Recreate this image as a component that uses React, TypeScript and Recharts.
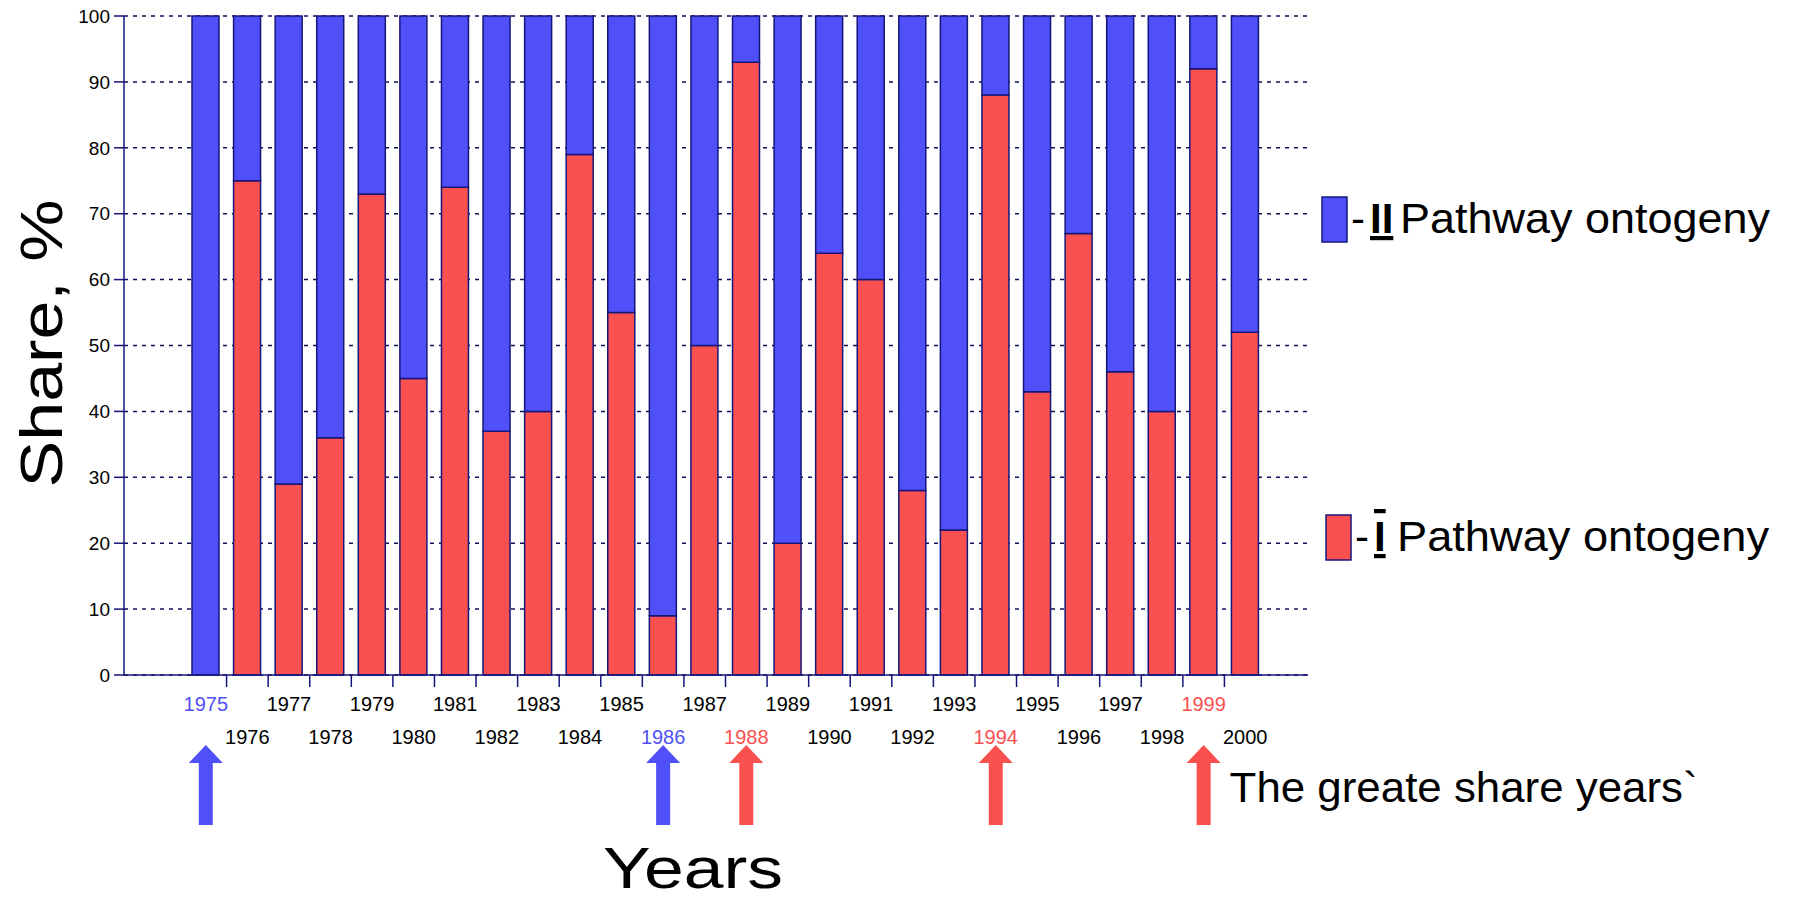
import { BarChart, Bar, XAxis, YAxis, CartesianGrid, Legend, ReferenceDot } from 'recharts';

// Share (%) of each ontogeny pathway per year
const years = [
  '1975', '1976', '1977', '1978', '1979', '1980', '1981', '1982', '1983', '1984', '1985', '1986', '1987',
  '1988', '1989', '1990', '1991', '1992', '1993', '1994', '1995', '1996', '1997', '1998', '1999', '2000',
];
const pathwayI = [0, 75, 29, 36, 73, 45, 74, 37, 40, 79, 55, 9, 50, 93, 20, 64, 60, 28, 22, 88, 43, 67, 46, 40, 92, 52];
const pathwayII = [100, 25, 71, 64, 27, 55, 26, 63, 60, 21, 45, 91, 50, 7, 80, 36, 40, 72, 78, 12, 57, 33, 54, 60, 8, 48];
const yTicks = [0, 10, 20, 30, 40, 50, 60, 70, 80, 90, 100];

// years marked with an arrow, and which pathway had the greater share
const markedYears = ['1975', '1986', '1988', '1994', '1999'];
const markedPathway = ['II', 'II', 'I', 'I', 'I'];
const markNote = 'The greate share years`';

const BLUE = '#5050f8';
const RED = '#fa5050';
const NAVY = '#16167a';
const FONT = '"Liberation Sans", Arial, Helvetica, sans-serif';

const data = years.map((year, i) => ({ year, I: pathwayI[i], II: pathwayII[i] }));

const pathwayColor = (p: string) => (p === 'I' ? RED : BLUE);

function yearColor(year: string) {
  const i = markedYears.indexOf(year);
  return i === -1 ? '#000' : pathwayColor(markedPathway[i]);
}

function YearTick(props: any) {
  const { x, y, payload, index } = props;
  const half = payload?.offset ?? 20.8;
  const upperRow = index % 2 === 0;
  return (
    <g>
      {index > 0 && <line x1={x - half} x2={x - half} y1={y} y2={y + 12} stroke={NAVY} strokeWidth={1.5} />}
      <text x={x} y={y + (upperRow ? 36 : 69)} textAnchor="middle" fontSize={20} fill={yearColor(payload.value)}>
        {payload.value}
      </text>
    </g>
  );
}

function ShareTitle(props: any) {
  const { viewBox } = props;
  const x = viewBox.x - 2;
  const y = viewBox.y + viewBox.height / 2 - 2;
  return (
    <text x={x} y={y} transform={`rotate(-90 ${x} ${y})`} textAnchor="middle" fontSize={59}
      textLength={288} lengthAdjust="spacingAndGlyphs" fill="#000">
      Share, %
    </text>
  );
}

function YearsTitle(props: any) {
  const { viewBox } = props;
  return (
    <text x={viewBox.x + viewBox.width / 2 - 23} y={viewBox.y + 213} textAnchor="middle" fontSize={57}
      textLength={180} lengthAdjust="spacingAndGlyphs" fill="#000">
      Years
    </text>
  );
}

function UpArrow(props: any) {
  const { cx, cy, fill, note } = props;
  const tip = cy + 70;
  const neck = cy + 88;
  const end = cy + 150;
  const d = `M${cx},${tip} L${cx + 17},${neck} L${cx + 7},${neck} L${cx + 7},${end} L${cx - 7},${end} L${cx - 7},${neck} L${cx - 17},${neck} Z`;
  return (
    <g>
      <path d={d} fill={fill} />
      {note && (
        <text x={cx + 26} y={cy + 127} fontSize={42} textLength={468} lengthAdjust="spacingAndGlyphs" fill="#000">
          {note}
        </text>
      )}
    </g>
  );
}

function PathwayLegend(props: any) {
  const items = [...(props.payload ?? [])].reverse();
  return (
    <svg width={475} height={370} style={{ display: 'block', fontFamily: FONT }}>
      {items.map((item: any, i: number) => {
        const dx = i === 0 ? 0 : 4;
        const dy = i * 318;
        return (
          <g key={item.value} transform={`translate(${dx},${dy})`}>
            <rect x={2} y={1} width={25} height={45} fill={item.color} stroke={NAVY} strokeWidth={1.5} />
            <text x={31} y={37} fontSize={42} fill="#000">-</text>
            <text x={50} y={37} fontSize={42} fontWeight="bold" fill="#000"
              style={{ textDecoration: 'underline overline' }}>
              {item.value}
            </text>
            <text x={item.value === 'I' ? 73 : 80} y={37} fontSize={42} fill="#000"
              textLength={item.value === 'I' ? 372 : 370} lengthAdjust="spacingAndGlyphs">
              Pathway ontogeny
            </text>
          </g>
        );
      })}
    </svg>
  );
}

export default function App() {
  return (
    <div style={{ fontFamily: FONT }}>
      <style>{'body { margin: 0; }'}</style>
      <BarChart
        width={1795}
        height={902}
        data={data}
        margin={{ top: 16, right: 487, bottom: 0, left: 64 }}
        style={{ fontFamily: FONT }}
      >
        <CartesianGrid horizontal vertical={false} stroke="#10105a" strokeWidth={1.5} strokeDasharray="4 5" />
        <XAxis
          dataKey="year"
          height={227}
          interval={0}
          padding={{ left: 61, right: 42 }}
          axisLine={{ stroke: NAVY, strokeWidth: 1.5 }}
          tickLine={false}
          tickSize={0}
          tickMargin={0}
          tick={<YearTick />}
          label={YearsTitle}
        />
        <XAxis
          xAxisId="top"
          orientation="top"
          dataKey="year"
          height={0}
          padding={{ left: 61, right: 42 }}
          axisLine={{ stroke: NAVY, strokeWidth: 1.5 }}
          tick={false}
          tickLine={false}
        />
        <YAxis
          domain={[0, 100]}
          ticks={yTicks}
          width={60}
          axisLine={{ stroke: NAVY, strokeWidth: 1.5 }}
          tickLine={{ stroke: NAVY, strokeWidth: 1.5 }}
          tickSize={10}
          tickMargin={4}
          tick={{ fontSize: 19, fill: '#000' }}
          label={ShareTitle}
        />
        <YAxis
          yAxisId="right"
          orientation="right"
          domain={[0, 100]}
          width={0}
          axisLine={{ stroke: NAVY, strokeWidth: 1.5 }}
          tick={false}
          tickLine={false}
        />
        <Legend
          layout="horizontal"
          align="center"
          verticalAlign="middle"
          wrapperStyle={{ left: 1320, top: 196, width: 475, height: 370 }}
          content={PathwayLegend}
        />
        <Bar dataKey="I" name="I" stackId="share" fill={RED} stroke={NAVY} strokeWidth={1.5} barSize={27} isAnimationActive={false} />
        <Bar dataKey="II" name="II" stackId="share" fill={BLUE} stroke={NAVY} strokeWidth={1.5} barSize={27} isAnimationActive={false} />
        {markedYears.map((year, i) => (
          <ReferenceDot
            key={year}
            x={year}
            y={0}
            r={0}
            ifOverflow="visible"
            shape={(p: any) => (
              <UpArrow {...p} fill={pathwayColor(markedPathway[i])} note={i === markedYears.length - 1 ? markNote : undefined} />
            )}
          />
        ))}
      </BarChart>
    </div>
  );
}
